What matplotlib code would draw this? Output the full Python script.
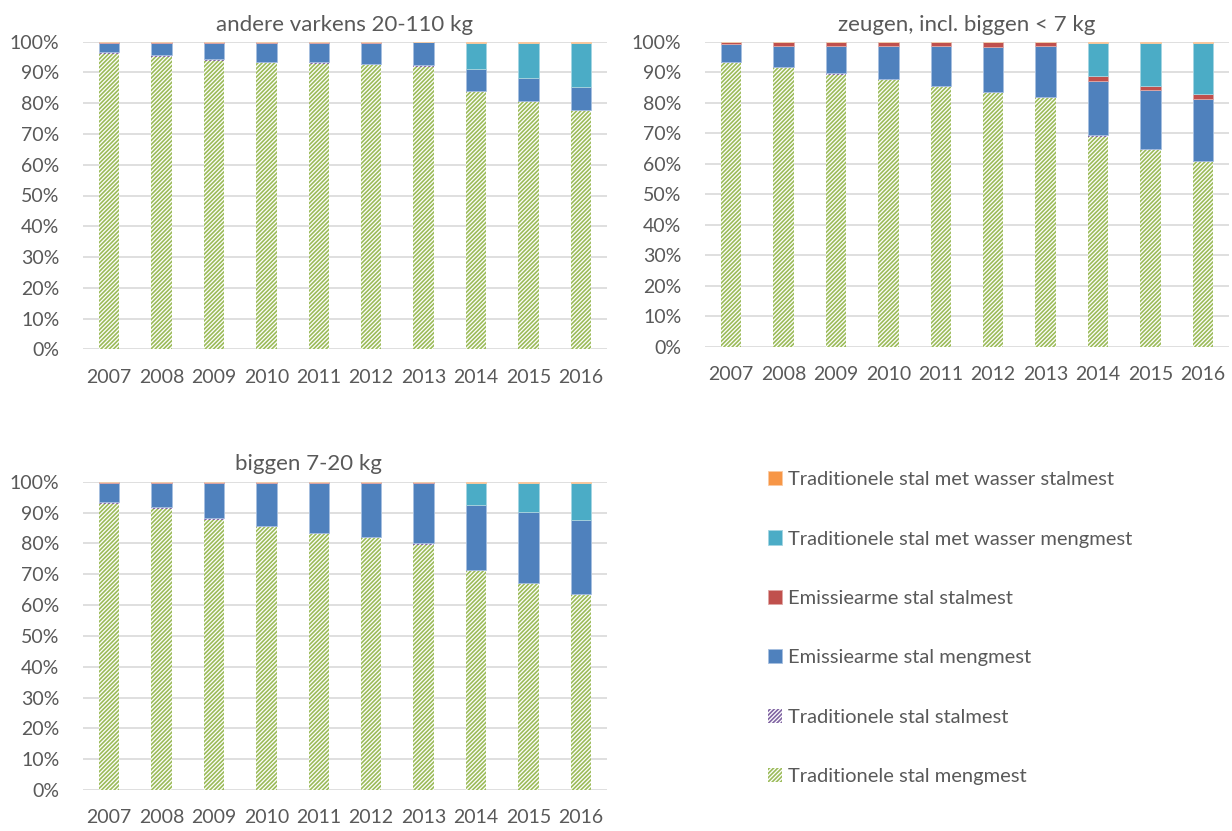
import matplotlib
matplotlib.use('Agg')
import matplotlib.pyplot as plt
from matplotlib.ticker import PercentFormatter

plt.rcParams['font.family'] = ['Lato', 'DejaVu Sans']
plt.rcParams['hatch.linewidth'] = 1.2

years = ['2007', '2008', '2009', '2010', '2011', '2012', '2013', '2014', '2015', '2016']

series_names = ['Traditionele stal mengmest', 'Traditionele stal stalmest',
                'Emissiearme stal mengmest', 'Emissiearme stal stalmest',
                'Traditionele stal met wasser mengmest', 'Traditionele stal met wasser stalmest']

# andere varkens 20-110 kg
varkens_trad_meng = [95.9, 95.1, 93.8, 93.0, 92.8, 92.5, 91.8, 83.5, 80.4, 77.5]
varkens_trad_stal = [0.8, 0.6, 0.6, 0.5, 0.6, 0.3, 0.5, 0.4, 0.3, 0.3]
varkens_emis_meng = [3.0, 4.0, 5.3, 6.2, 6.3, 6.9, 7.7, 7.2, 7.6, 7.6]
varkens_emis_stal = [0.3, 0.3, 0.3, 0.3, 0.3, 0.3, 0.0, 0.0, 0.0, 0.0]
varkens_wass_meng = [0, 0, 0, 0, 0, 0, 0, 8.6, 11.3, 14.2]
varkens_wass_stal = [0, 0, 0, 0, 0, 0, 0, 0.3, 0.4, 0.4]

# zeugen, incl. biggen < 7 kg
zeugen_trad_meng = [93.0, 91.3, 89.2, 87.4, 85.1, 83.1, 81.5, 68.9, 64.5, 60.7]
zeugen_trad_stal = [0.4, 0.4, 0.6, 0.4, 0.5, 0.4, 0.4, 0.4, 0.3, 0.3]
zeugen_emis_meng = [5.8, 7.0, 8.9, 10.9, 13.1, 14.8, 16.8, 17.9, 19.3, 20.2]
zeugen_emis_stal = [0.8, 1.3, 1.3, 1.3, 1.3, 1.7, 1.3, 1.7, 1.5, 1.6]
zeugen_wass_meng = [0, 0, 0, 0, 0, 0, 0, 10.8, 14.1, 16.9]
zeugen_wass_stal = [0, 0, 0, 0, 0, 0, 0, 0.3, 0.3, 0.3]

# biggen 7-20 kg
biggen_trad_meng = [92.8, 91.1, 87.7, 85.2, 82.9, 81.6, 79.6, 71.1, 67.0, 63.2]
biggen_trad_stal = [0.5, 0.6, 0.4, 0.4, 0.4, 0.4, 0.4, 0.3, 0.3, 0.3]
biggen_emis_meng = [6.4, 8.0, 11.6, 14.1, 16.4, 17.7, 19.7, 21.2, 22.9, 24.2]
biggen_emis_stal = [0.3, 0.3, 0.3, 0.3, 0.3, 0.3, 0.3, 0.0, 0.0, 0.0]
biggen_wass_meng = [0, 0, 0, 0, 0, 0, 0, 7.1, 9.5, 12.0]
biggen_wass_stal = [0, 0, 0, 0, 0, 0, 0, 0.3, 0.3, 0.3]

grey = '#595959'
styles = [
    dict(facecolor='white', edgecolor='#9BBB59', hatch='/' * 8, linewidth=0),
    dict(facecolor='white', edgecolor='#8064A2', hatch='/' * 8, linewidth=0),
    dict(color='#4F81BD', edgecolor='#A7C0E0', linewidth=0.6),
    dict(color='#C0504D', edgecolor='#E0A8A6', linewidth=0.6),
    dict(color='#4BACC6', edgecolor='#A5D5E2', linewidth=0.6),
    dict(color='#F79646', edgecolor='#FBCBA2', linewidth=0.6),
]

W, H = 1232, 831
fig = plt.figure(figsize=(W / 100, H / 100), dpi=100)


def make_axes(left, top, right, bottom):
    return fig.add_axes([left / W, 1 - bottom / H, (right - left) / W, (bottom - top) / H])


def draw_panel(ax, data):
    bottom = [0.0] * len(years)
    bars = []
    for vals, name, st in zip(data, series_names, styles):
        b = ax.bar(range(len(years)), vals, 0.39, bottom=bottom, label=name, **st)
        bars.append(b)
        bottom = [a + v for a, v in zip(bottom, vals)]
    ax.set_xlim(-0.5, len(years) - 0.5)
    ax.set_ylim(0, 100)
    ax.set_yticks(range(0, 101, 10))
    ax.yaxis.set_major_formatter(PercentFormatter(decimals=0))
    ax.set_xticks(range(len(years)))
    ax.set_xticklabels(years)
    ax.grid(axis='y', color='#D9D9D9', linewidth=1.2)
    ax.set_axisbelow(True)
    for s in ax.spines.values():
        s.set_visible(False)
    ax.tick_params(length=0, labelsize=14, colors=grey)
    ax.tick_params(axis='y', pad=17)
    ax.tick_params(axis='x', pad=14)
    return bars


ax1 = make_axes(83, 41.7, 607, 349.3)
bars = draw_panel(ax1, [varkens_trad_meng, varkens_trad_stal, varkens_emis_meng,
                        varkens_emis_stal, varkens_wass_meng, varkens_wass_stal])
ax1.set_title('andere varkens 20-110 kg', fontsize=16, color=grey, pad=8)

ax2 = make_axes(705, 41.8, 1229, 346.8)
draw_panel(ax2, [zeugen_trad_meng, zeugen_trad_stal, zeugen_emis_meng,
                 zeugen_emis_stal, zeugen_wass_meng, zeugen_wass_stal])
ax2.set_title('zeugen, incl. biggen < 7 kg', fontsize=16, color=grey, pad=8)

ax3 = make_axes(83, 481.7, 607, 790)
draw_panel(ax3, [biggen_trad_meng, biggen_trad_stal, biggen_emis_meng,
                 biggen_emis_stal, biggen_wass_meng, biggen_wass_stal])
fig.text(308 / W, 1 - 464 / H, 'biggen 7-20 kg', fontsize=16, color=grey,
         ha='center', va='center')

leg = fig.legend(bars[::-1], series_names[::-1], loc='upper left',
                 bbox_to_anchor=(760 / W, 1 - 463 / H), frameon=False,
                 fontsize=14.5, labelcolor=grey, handlelength=0.7, handleheight=0.7,
                 handletextpad=0.3, labelspacing=2.1, borderaxespad=0)

fig.savefig('out.png', dpi=100)
